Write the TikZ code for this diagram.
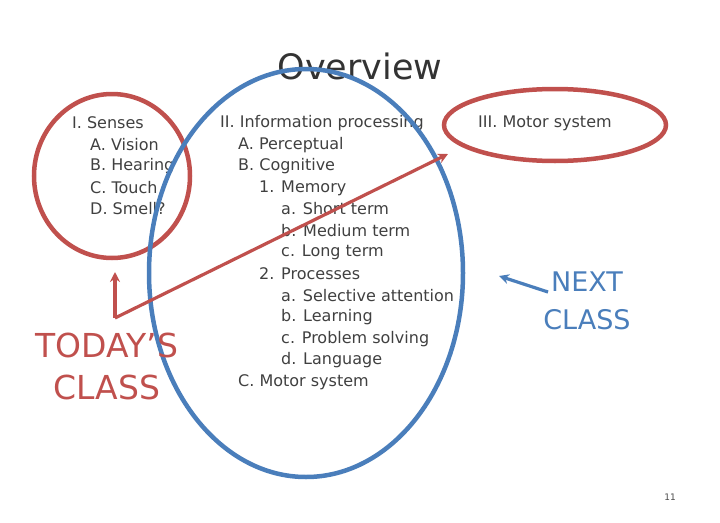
\documentclass[tikz,border=0pt]{standalone}
\usepackage{fontspec}
\usetikzlibrary{arrows.meta}
\setmainfont{DejaVu Sans}
\definecolor{myred}{HTML}{C0504D}
\definecolor{myblue}{HTML}{4A7EBB}
\begin{document}
\begin{tikzpicture}[x=1pt,y=-1pt,
  item/.style={anchor=west,inner sep=0,font=\fontsize{16}{18}\selectfont,text=black!75},
  ring/.style={line width=4.5pt},
  big/.style={align=center,font=\fontsize{33}{42}\selectfont}]
\useasboundingbox (0,0) rectangle (720,522);
\node[font=\fontsize{35}{40}\selectfont,text=black!80] (title) at (360,66) {Overview};
% left
\node[item] (s0) at (72,123) {I. Senses};
\node[item] (s1) at (90,145) {A. Vision};
\node[item] (s2) at (90,166) {B. Hearing};
\node[item] (s3) at (90,188) {C. Touch};
\node[item] (s4) at (90,209) {D. Smell?};
% middle
\node[item] (m0) at (220,123) {II. Information processing};
\node[item] (m1) at (238,145) {A. Perceptual};
\node[item] (m2) at (238,166) {B. Cognitive};
\node[item] (m3) at (259,188) {1. Memory};
\node[item] (m4) at (281,209) {a. Short term};
\node[item] (m5) at (281,231) {b. Medium term};
\node[item] (m6) at (281,252) {c. Long term};
\node[item] (m7) at (259,274) {2. Processes};
\node[item] (m8) at (281,296) {a. Selective attention};
\node[item] (m9) at (281,317) {b. Learning};
\node[item] (m10) at (281,339) {c. Problem solving};
\node[item] (m11) at (281,360) {d. Language};
\node[item] (m12) at (238,382) {C. Motor system};
% right
\node[item] (r0) at (478,123) {III. Motor system};
% rings
\draw[ring,myred] (112,176) ellipse [x radius=78,y radius=82];
\draw[ring,myblue] (306,273) ellipse [x radius=157,y radius=204];
\draw[ring,myred] (555,125) ellipse [x radius=111,y radius=36];
% big labels
\node[big,text=myred] (today) at (107,366) {TODAY’S\\CLASS};
\node[big,text=myblue,font=\fontsize{27}{38}\selectfont] (next) at (587,301) {NEXT\\CLASS};
% arrows
\coordinate (corner) at (115,318);
\coordinate (up) at (115,272);
\coordinate (tip) at (448,154);
\coordinate (nf) at (548,292);
\coordinate (nt) at (499,276);
\draw[myred,line width=3.2pt,-{Stealth[length=10pt,width=10pt]}] (corner) -- (up);
\draw[myred,line width=3.2pt,-{Stealth[length=10pt,width=10pt]}] (corner) -- (tip);
\draw[myblue,line width=3.2pt,-{Stealth[length=10pt,width=10pt]}] (nf) -- (nt);
\node[font=\fontsize{9}{10}\selectfont,text=black!70] (pg) at (670,497) {11};
\end{tikzpicture}
\end{document}
